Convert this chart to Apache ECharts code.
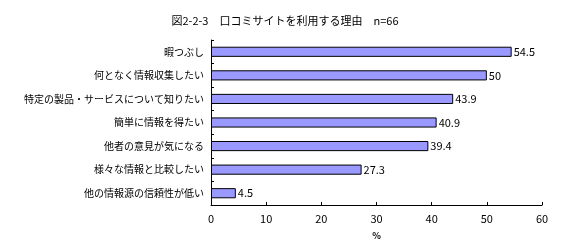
<!DOCTYPE html>
<html><head><meta charset="utf-8">
<script src="https://cdn.jsdelivr.net/npm/echarts@6/dist/echarts.min.js"></script>
<style>html,body{margin:0;padding:0;background:#fff}#c{width:561px;height:251px}</style>
</head><body><div id="c"></div>
<script>
const titleText = '図2-2-3　口コミサイトを利用する理由　n=66';
const categories = ['暇つぶし','何となく情報収集したい','特定の製品・サービスについて知りたい','簡単に情報を得たい','他者の意見が気になる','様々な情報と比較したい','他の情報源の信頼性が低い'];
const values = [54.5, 50, 43.9, 40.9, 39.4, 27.3, 4.5];
const axisName = '%';
const F = '"Noto Sans CJK JP", sans-serif';
const chart = echarts.init(document.getElementById('c'));
chart.setOption({
  animation: false,
  backgroundColor: '#fff',
  title: { text: titleText, left: 280, top: 10, textAlign: 'center',
    textStyle: { fontFamily: F, fontSize: 11, fontWeight: 'normal', color: '#000' } },
  grid: { left: 211, right: 19, top: 40, bottom: 46 },
  xAxis: { type: 'value', min: 0, max: 60, interval: 10,
    name: axisName, nameLocation: 'middle', nameGap: 26,
    nameTextStyle: { fontFamily: F, fontSize: 9, fontWeight: 'bold', color: '#000' },
    axisLine: { show: true, lineStyle: { color: '#000', width: 1 } },
    axisTick: { show: true, inside: true, length: 3, lineStyle: { color: '#000' } },
    axisLabel: { fontFamily: F, fontSize: 11, color: '#000', margin: 8 },
    splitLine: { show: false } },
  yAxis: { type: 'category', data: categories, inverse: true,
    axisLine: { show: true, lineStyle: { color: '#000', width: 1 } },
    axisTick: { show: true, inside: true, length: 3, lineStyle: { color: '#000' } },
    axisLabel: { fontFamily: F, fontSize: 10, color: '#000', margin: 7 } },
  series: [{ type: 'bar', data: values, barCategoryGap: '57%',
    itemStyle: { color: '#9999FF', borderColor: '#000', borderWidth: 1 },
    label: { show: true, position: 'right', distance: 2, fontFamily: F, fontSize: 11, color: '#000' } }]
});
</script></body></html>
